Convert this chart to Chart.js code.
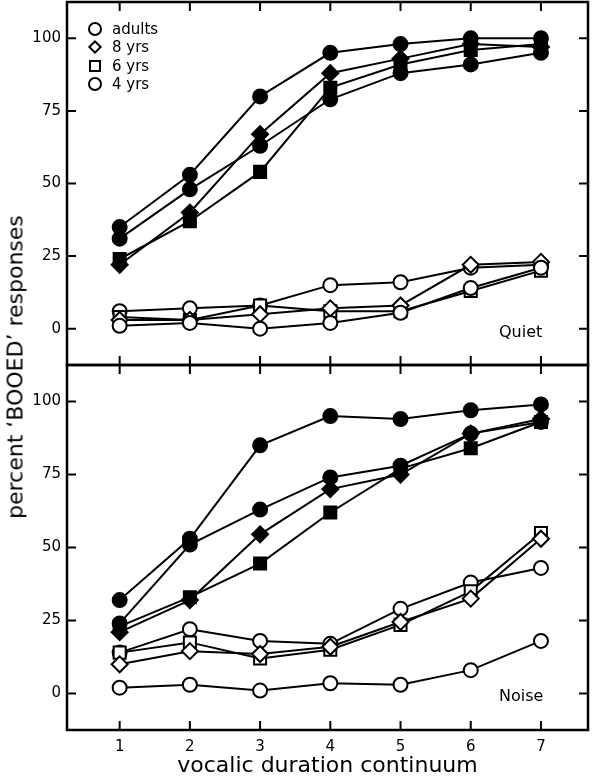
<!DOCTYPE html>
<html>
<head>
<meta charset="utf-8">
<script src="https://cdn.jsdelivr.net/npm/chart.js@4.4.0/dist/chart.umd.min.js"></script>
<style>
    html, body { margin: 0; padding: 0; background: #fff; }
    body { width: 596px; height: 779px; position: relative; overflow: hidden; font-family: "DejaVu Sans", sans-serif; color: #000; }
    #quietWrap { position: absolute; left: 0; top: 0; width: 596px; height: 367px; }
    #noiseWrap { position: absolute; left: 0; top: 363px; width: 596px; height: 416px; }
    #yTitle {
        position: absolute; left: 15px; top: 367px; font-size: 22px; white-space: nowrap;
        transform: translate(-50%, -50%) rotate(-90deg);
    }
    #legend { position: absolute; left: 87px; top: 20px; font-size: 15px; }
    #legend .row { height: 18.3px; display: flex; align-items: center; }
    #legend .mk { width: 16px; height: 16px; position: relative; margin-right: 9px; }
    #legend .mk span { position: absolute; box-sizing: border-box; border: 2px solid #000; background: #fff; }
    .panelLabel { position: absolute; font-size: 16px; }
</style>
</head>
<body>
<div id="quietWrap"><canvas id="quietChart"></canvas></div>
<div id="noiseWrap"><canvas id="noiseChart"></canvas></div>
<div id="yTitle">percent ‘BOOED’ responses</div>
<div id="legend"></div>
<div class="panelLabel" style="left:499px; top:322px;">Quiet</div>
<div class="panelLabel" style="left:499px; top:686px;">Noise</div>

<script>
// =======================
// DATA
// =======================
let xValues = [1, 2, 3, 4, 5, 6, 7];
let yTicks = [0, 25, 50, 75, 100];
let groups = ["adults", "8 yrs", "6 yrs", "4 yrs"];
let groupShapes = ["circle", "rectRot", "rect", "circle"];

// Quiet panel: filled = upper functions, open = lower functions
let quietAdultsFilled = [35, 53, 80, 95, 98, 100, 100];
let quiet8Filled = [22, 40, 67, 88, 93, 98, 97];
let quiet6Filled = [24, 37, 54, 83, 91, 96, 98];
let quiet4Filled = [31, 48, 63, 79, 88, 91, 95];
let quietAdultsOpen = [1, 2, 0, 2, 5.5, 14, 21];
let quiet8Open = [3, 3, 5, 7, 8, 22, 23];
let quiet6Open = [4, 3, 8, 6, 6, 13, 20];
let quiet4Open = [6, 7, 8, 15, 16, 21, 22];

// Noise panel
let noiseAdultsFilled = [32, 53, 85, 95, 94, 97, 99];
let noise8Filled = [21, 32, 54.5, 70, 75, 89, 94];
let noise6Filled = [23, 33, 44.5, 62, 77, 84, 93];
let noise4Filled = [24, 51, 63, 74, 78, 89, 93];
let noiseAdultsOpen = [2, 3, 1, 3.5, 3, 8, 18];
let noise8Open = [10, 14.5, 13.5, 16, 24.5, 32.5, 53];
let noise6Open = [14, 17.5, 12, 15, 23.5, 35, 55];
let noise4Open = [14, 22, 18, 17, 29, 38, 43];

// =======================
// HELPERS
// =======================
function radiusFor(shape) {
    if (shape === "rect") return 8.5;
    if (shape === "rectRot") return 8;
    return 7;
}

function makeSet(values, groupIndex, filled) {
    let shape = groupShapes[groupIndex];
    return {
        label: groups[groupIndex] + (filled ? " filled" : " open"),
        data: values.map((v, i) => ({ x: xValues[i], y: v })),
        borderColor: "#000",
        borderWidth: 2,
        pointStyle: shape,
        pointRadius: radiusFor(shape),
        pointBorderWidth: 2,
        pointBorderColor: "#000",
        pointBackgroundColor: filled ? "#000" : "#fff",
        fill: false,
        tension: 0
    };
}

// frame + inward ticks on all four sides
let framePlugin = {
    id: "frameTicks",
    afterDraw(chart) {
        let ctx = chart.ctx;
        let a = chart.chartArea;
        let xs = chart.scales.x;
        let ys = chart.scales.y;
        let len = 9;
        ctx.save();
        ctx.strokeStyle = "#000";
        ctx.lineWidth = 2.5;
        ctx.strokeRect(a.left, a.top, a.right - a.left, a.bottom - a.top);
        ctx.lineWidth = 2;
        ctx.beginPath();
        xValues.forEach(v => {
            let px = xs.getPixelForValue(v);
            ctx.moveTo(px, a.bottom); ctx.lineTo(px, a.bottom - len);
            ctx.moveTo(px, a.top); ctx.lineTo(px, a.top + len);
        });
        yTicks.forEach(v => {
            let py = ys.getPixelForValue(v);
            ctx.moveTo(a.left, py); ctx.lineTo(a.left + len, py);
            ctx.moveTo(a.right, py); ctx.lineTo(a.right - len, py);
        });
        ctx.stroke();
        ctx.restore();
    }
};

function makeOptions(showX, padding) {
    return {
        responsive: true,
        maintainAspectRatio: false,
        animation: false,
        clip: false,
        layout: { padding: padding, autoPadding: false },
        plugins: { legend: { display: false }, tooltip: { enabled: false } },
        scales: {
            x: {
                type: "linear",
                min: 0.25,
                max: 7.67,
                display: showX,
                afterBuildTicks: s => { s.ticks = xValues.map(v => ({ value: v })); },
                afterFit: s => {
                    s.height = showX ? 49 : 0;
                    s.paddingLeft = 0; s.paddingRight = 0;
                },
                grid: { display: false, drawTicks: false },
                border: { display: false },
                ticks: { color: "#000", padding: 8, font: { family: "DejaVu Sans", size: 15 } },
                title: {
                    display: true,
                    text: "vocalic duration continuum",
                    color: "#000",
                    padding: { top: 0, bottom: 0 },
                    font: { family: "DejaVu Sans", size: 22 }
                }
            },
            y: {
                min: -12.5,
                max: 112.5,
                afterBuildTicks: s => { s.ticks = yTicks.map(v => ({ value: v })); },
                afterFit: s => {
                    s.width = 67;
                    s.paddingTop = 0; s.paddingBottom = 0;
                },
                grid: { display: false, drawTicks: false },
                border: { display: false },
                ticks: { color: "#000", padding: 6, font: { family: "DejaVu Sans", size: 15 } }
            }
        }
    };
}

// =======================
// CHARTS
// =======================
new Chart(document.getElementById("quietChart"), {
    type: "line",
    data: {
        datasets: [
            makeSet(quietAdultsOpen, 0, false),
            makeSet(quiet8Open, 1, false),
            makeSet(quiet6Open, 2, false),
            makeSet(quiet4Open, 3, false),
            makeSet(quietAdultsFilled, 0, true),
            makeSet(quiet8Filled, 1, true),
            makeSet(quiet6Filled, 2, true),
            makeSet(quiet4Filled, 3, true)
        ]
    },
    options: makeOptions(false, { top: 2, right: 8, bottom: 2, left: 0 }),
    plugins: [framePlugin]
});

new Chart(document.getElementById("noiseChart"), {
    type: "line",
    data: {
        datasets: [
            makeSet(noiseAdultsOpen, 0, false),
            makeSet(noise8Open, 1, false),
            makeSet(noise6Open, 2, false),
            makeSet(noise4Open, 3, false),
            makeSet(noiseAdultsFilled, 0, true),
            makeSet(noise8Filled, 1, true),
            makeSet(noise6Filled, 2, true),
            makeSet(noise4Filled, 3, true)
        ]
    },
    options: makeOptions(true, { top: 2, right: 8, bottom: 0, left: 0 }),
    plugins: [framePlugin]
});

// =======================
// LEGEND (open markers)
// =======================
let legend = document.getElementById("legend");
groups.forEach((g, i) => {
    let shape = groupShapes[i];
    let mk;
    if (shape === "circle") mk = '<span style="left:1px;top:1px;width:14px;height:14px;border-radius:50%"></span>';
    else if (shape === "rect") mk = '<span style="left:2px;top:2px;width:12px;height:12px"></span>';
    else mk = '<span style="left:3px;top:3px;width:10px;height:10px;transform:rotate(45deg)"></span>';
    legend.innerHTML += '<div class="row"><div class="mk">' + mk + '</div><div>' + g + '</div></div>';
});
</script>
</body>
</html>
